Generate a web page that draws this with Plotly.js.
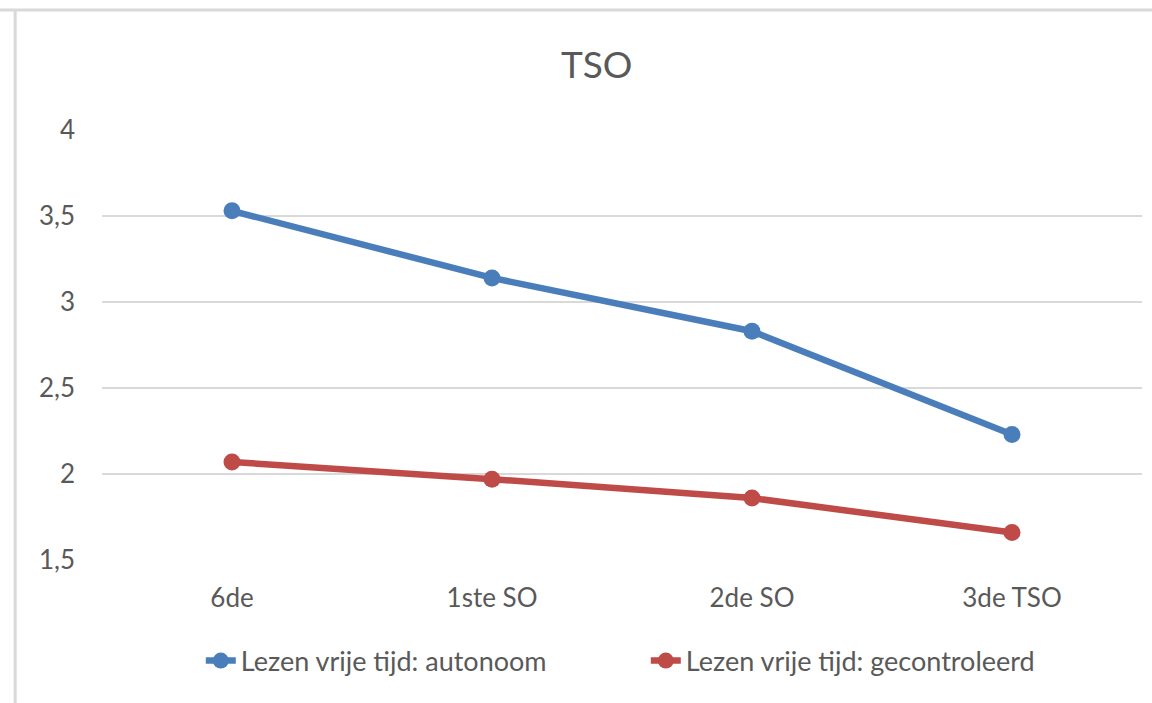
<!DOCTYPE html>
<html>
<head>
<meta charset="utf-8">
<script src="https://cdn.plot.ly/plotly-3.0.1.min.js"></script>
<style>html,body{margin:0;padding:0;background:#fff;}#chart{width:1152px;height:703px;}</style>
</head>
<body>
<div id="chart"></div>
<script>
const categories = ["6de", "1ste SO", "2de SO", "3de TSO"];
const autonoom = [3.53, 3.14, 2.83, 2.23];
const gecontroleerd = [2.07, 1.97, 1.86, 1.66];
const seriesNames = ["Lezen vrije tijd: autonoom", "Lezen vrije tijd: gecontroleerd"];

const font = "Lato, 'Open Sans', sans-serif";
const grey = "#595959";

const traces = [
  {x: categories, y: autonoom, name: seriesNames[0], type: "scatter", mode: "lines+markers",
   line: {color: "#4a7ebb", width: 6.5}, marker: {color: "#4a7ebb", size: 17}},
  {x: categories, y: gecontroleerd, name: seriesNames[1], type: "scatter", mode: "lines+markers",
   line: {color: "#be4b48", width: 6.5}, marker: {color: "#be4b48", size: 17}}
];

const layout = {
  width: 1152, height: 703,
  margin: {l: 102, r: 10, t: 130, b: 143},
  paper_bgcolor: "#fff", plot_bgcolor: "#fff",
  separators: ",.",
  font: {family: font, color: grey, size: 26},
  title: {text: "TSO", font: {family: font, size: 37, color: grey}, x: 0.518, xref: "container", y: 0.908, yanchor: "middle"},
  xaxis: {type: "category", range: [-0.5, 3.5], showgrid: false, zeroline: false, showline: false,
          ticks: "", ticklabelstandoff: 20, tickfont: {size: 26, color: grey}, fixedrange: true},
  yaxis: {range: [1.5, 4], dtick: 0.5, tick0: 1.5, showgrid: true, gridcolor: "#d9d9d9", gridwidth: 2,
          zeroline: false, showline: false, ticks: "", ticklabelstandoff: 26, tickfont: {size: 26, color: grey}},
  showlegend: true,
  legend: {orientation: "h", x: 0.095, xanchor: "left", y: -0.235, yanchor: "middle",
           font: {size: 27, color: grey}, entrywidth: 400, itemwidth: 30},
  shapes: [
    {type: "line", xref: "paper", yref: "paper", x0: -0.099, x1: 1.01, y0: 1.279, y1: 1.279, line: {color: "#d9d9d9", width: 3}},
    {type: "line", xref: "paper", yref: "paper", x0: -0.0835, x1: -0.0835, y0: 1.279, y1: -0.34, line: {color: "#d9d9d9", width: 3}}
  ]
};

Plotly.newPlot("chart", traces, layout, {displayModeBar: false, staticPlot: true});
</script>
</body>
</html>
